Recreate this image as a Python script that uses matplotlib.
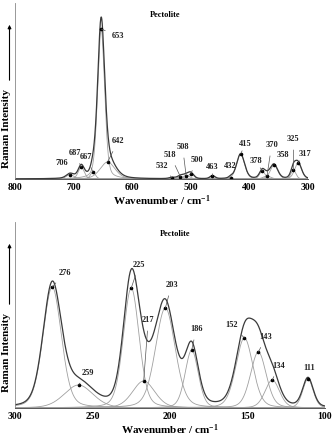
import numpy as np
import matplotlib
matplotlib.use("Agg")
import matplotlib.pyplot as plt

# ---------------- data ----------------
# top panel: 800-300 cm-1 components (centre, amplitude, FWHM)
top_centres = [706, 687, 667, 653, 642, 532, 518, 508, 500, 463, 432, 415, 378, 370, 358, 325, 317]
top_amps    = [4.5, 12, 7, 150, 17, 1.2, 2.5, 3.5, 5, 3, 1.5, 25, 8, 3, 14, 9, 16]
top_fwhm    = [15, 12, 10, 14, 30, 12, 12, 15, 12, 10, 8, 16, 11, 15, 15, 10, 14]
top_labels  = ["706", "687", "667", "653", "642", "532", "518", "508", "500", "463",
               "432", "415", "378", "370", "358", "325", "317"]

# bottom panel: 300-100 cm-1 components
bot_centres = [276, 259, 225, 217, 203, 186, 152, 143, 134, 111]
bot_amps    = [121, 23, 120, 27, 100, 58, 70, 56, 28, 29]
bot_fwhm    = [14, 22, 12, 17, 15, 10, 13, 12, 11, 8]
bot_labels  = ["276", "259", "225", "217", "203", "186", "152", "143", "134", "111"]

title = "Pectolite"
xlabel = "Wavenumber / cm$^{-1}$"
ylabel = "Raman Intensity"

# ---------------- layout (label text positions, data coords) ----------------
top_text = [(720, 16), (698, 26), (678, 22), (624, 143), (624, 38), (550, 13), (535, 24),
            (514, 32), (490, 19), (464, 12), (433, 13), (407, 35), (389, 18), (362, 34),
            (342, 24), (325, 40), (305, 25)]
bot_text = [(268, 135), (253, 35), (220, 143), (214, 88), (199, 123), (183, 79),
            (160, 83), (138, 71), (130, 42), (110, 40)]

W, H = 333, 436
plt.rcParams['font.family'] = ['Liberation Serif', 'DejaVu Serif']
plt.rcParams['font.weight'] = 'bold'
plt.rcParams['mathtext.fontset'] = 'custom'
plt.rcParams['mathtext.rm'] = 'Liberation Serif:bold'
plt.rcParams['mathtext.it'] = 'Liberation Serif:bold'
plt.rcParams['mathtext.bf'] = 'Liberation Serif:bold'
plt.rcParams['mathtext.default'] = 'bf'

fig = plt.figure(figsize=(W / 100, H / 100), dpi=100)


def pv(x, c, a, w, eta):
    g = np.exp(-4 * np.log(2) * (x - c) ** 2 / w ** 2)
    l = 1 / (1 + 4 * (x - c) ** 2 / w ** 2)
    return a * (eta * l + (1 - eta) * g)


def panel(rect, xmin, xmax, ytop, centres, amps, fwhm, labels, texts, ticks, eta):
    ax = fig.add_axes(rect)
    x = np.linspace(xmax, xmin, 2000)
    total = np.zeros_like(x)
    for c, a, w in zip(centres, amps, fwhm):
        y = pv(x, c, a, w, eta)
        total += y
        ax.plot(x, y, color='#a0a0a0', lw=0.6)
    ax.plot(x, total, color='#3a3a3a', lw=0.9)
    for c, a, lab, (tx, ty) in zip(centres, amps, labels, texts):
        ax.plot([c], [a], 'o', color='black', ms=1.6)
        ax.annotate(lab, xy=(c, a), xytext=(tx, ty), fontsize=6, fontweight='bold',
                    ha='center', va='center', color='#222222',
                    arrowprops=dict(arrowstyle='-', color='#555555', lw=0.5,
                                    shrinkA=3, shrinkB=0))
    ax.set_xlim(xmax, xmin)
    ax.set_ylim(0, ytop)
    ax.set_xticks(ticks)
    ax.set_xticklabels([str(t) for t in ticks], fontsize=7, fontweight='bold')
    ax.tick_params(axis='x', length=0, pad=3)
    ax.set_yticks([])
    for s in ['top', 'right']:
        ax.spines[s].set_visible(False)
    ax.spines['left'].set_color('#888888')
    ax.spines['left'].set_linewidth(0.6)
    ax.spines['bottom'].set_color('#555555')
    ax.spines['bottom'].set_linewidth(0.7)
    ax.set_xlabel(xlabel, fontsize=8, fontweight='bold', labelpad=1)
    return ax


# top axes: x 15..308 px, y 3..179 px
ax1 = panel([15 / W, 1 - 179 / H, 293 / W, 176 / H], 300, 800, 176,
            top_centres, top_amps, top_fwhm, top_labels, top_text,
            [800, 700, 600, 500, 400, 300], 0.3)
fig.text(165 / W, 1 - 15 / H, title, fontsize=6, fontweight='bold', ha='center', va='center')

# bottom axes: x 15..325 px, y 222..408 px
ax2 = panel([15 / W, 1 - 408 / H, 310 / W, 186 / H], 100, 300, 186,
            bot_centres, bot_amps, bot_fwhm, bot_labels, bot_text,
            [300, 250, 200, 150, 100], 0.25)
fig.text(175 / W, 1 - 234 / H, title, fontsize=6, fontweight='bold', ha='center', va='center')

# y labels with arrows
for yc, y0, y1 in [(129, 83, 22), (353, 307, 241)]:
    fig.text(7 / W, 1 - yc / H, ylabel, rotation=90, fontsize=8, fontweight='bold',
             ha='center', va='center')
    fig.add_artist(matplotlib.patches.FancyArrowPatch(
        (9.5 / W, 1 - y0 / H), (9.5 / W, 1 - y1 / H), transform=fig.transFigure,
        arrowstyle='-|>,head_length=2,head_width=1', color='black', lw=0.8))

fig.savefig("out.png", dpi=100)
